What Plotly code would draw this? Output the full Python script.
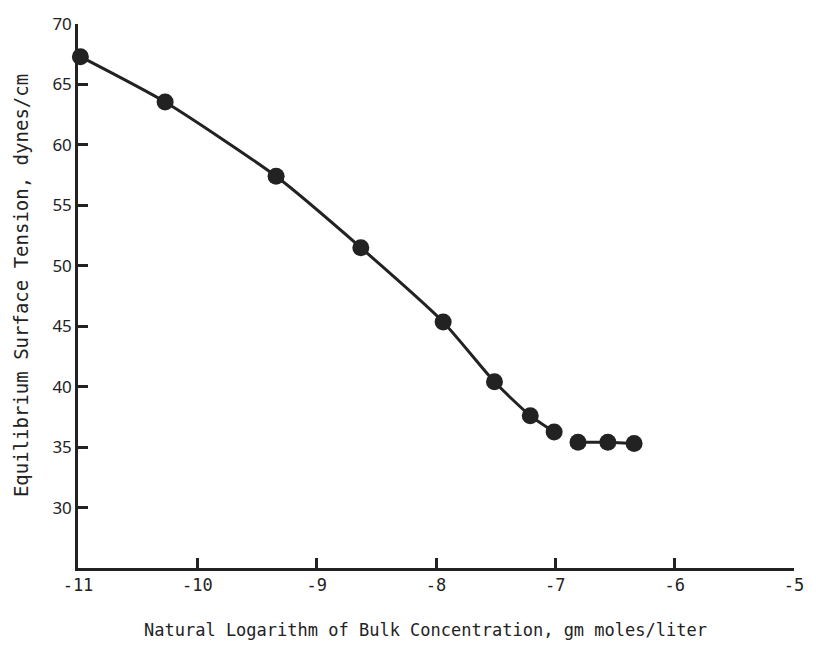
import plotly.graph_objects as go

# Surface tension vs. ln(bulk concentration)
ln_conc_curve = [-10.98, -10.27, -9.34, -8.63, -7.94, -7.51, -7.21, -7.01]
tension_curve = [67.3, 63.55, 57.4, 51.5, 45.35, 40.4, 37.6, 36.25]

# Plateau above the critical concentration
ln_conc_plateau = [-6.81, -6.56, -6.34]
tension_plateau = [35.4, 35.4, 35.3]

x_ticks = [-11, -10, -9, -8, -7, -6, -5]
y_ticks = [30, 35, 40, 45, 50, 55, 60, 65, 70]

ink = "#222222"

fig = go.Figure()
fig.add_trace(go.Scatter(
    x=ln_conc_curve, y=tension_curve, mode="lines+markers",
    line=dict(color=ink, width=3, shape="spline", smoothing=0.6),
    marker=dict(color=ink, size=17),
    cliponaxis=False, showlegend=False,
))
fig.add_trace(go.Scatter(
    x=ln_conc_plateau, y=tension_plateau, mode="lines+markers",
    line=dict(color=ink, width=3),
    marker=dict(color=ink, size=17),
    cliponaxis=False, showlegend=False,
))

fig.update_xaxes(
    range=[-11, -5], tickvals=x_ticks, ticktext=[str(v) for v in x_ticks],
    showgrid=False, zeroline=False, showline=True, linecolor=ink, linewidth=2.5,
    ticks="inside", ticklen=10, tickwidth=2.5, tickcolor=ink,
    tickfont=dict(family="DejaVu Sans Mono", size=17, color=ink),
)
fig.update_yaxes(
    range=[25, 70], tickvals=y_ticks, ticktext=[str(v) for v in y_ticks],
    showgrid=False, zeroline=False, showline=True, linecolor=ink, linewidth=2.5,
    ticks="inside", ticklen=10, tickwidth=2.5, tickcolor=ink,
    tickfont=dict(family="Noto Sans", size=17, color=ink),
)

fig.add_annotation(
    text="Natural Logarithm of Bulk Concentration, gm moles/liter",
    xref="paper", yref="paper", x=(427.5 - 78) / 721, y=-(631 - 568) / 555,
    showarrow=False, xanchor="center", yanchor="middle",
    font=dict(family="DejaVu Sans Mono", size=17, color=ink),
)
fig.add_annotation(
    text="Equilibrium Surface Tension, dynes/cm",
    xref="paper", yref="paper", x=-(78 - 20) / 721, y=(568 - 280) / 555,
    showarrow=False, xanchor="center", yanchor="middle", textangle=-90,
    font=dict(family="DejaVu Sans Mono", size=19, color=ink),
)

fig.update_layout(
    width=816, height=645,
    margin=dict(l=78, r=17, t=13, b=77),
    paper_bgcolor="white", plot_bgcolor="white",
)

fig.write_html("out.html")
